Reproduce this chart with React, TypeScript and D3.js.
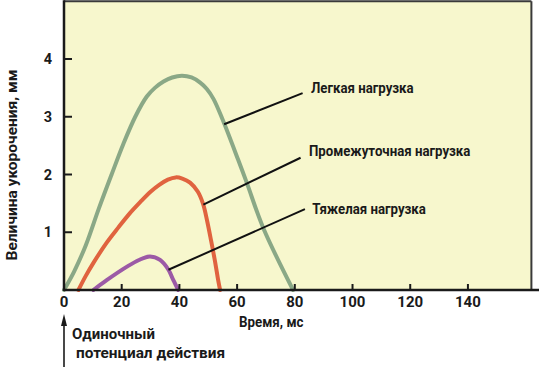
import React from "react";
import * as d3 from "d3";

const W = 541;
const H = 367;

const xTicks = [0, 20, 40, 60, 80, 100, 120, 140];
const yTicks = [1, 2, 3, 4];

// Light load (green)
const lightMs = [0, 3.5, 7.6, 12, 16.5, 20.5, 24.7, 28.7, 31.5, 34.5, 37.5, 40.9, 44.2, 47.2, 49.5, 51.8, 54.9, 60.4, 63.4, 69.1, 79.4];
const lightMm = [0, 0.32, 0.78, 1.4, 2.0, 2.52, 3.0, 3.35, 3.5, 3.61, 3.68, 3.71, 3.68, 3.59, 3.48, 3.31, 2.96, 2.25, 1.85, 1.07, 0];

// Intermediate load (red)
const midMs = [5.0, 7.5, 10.2, 14.8, 18.8, 22.5, 26.4, 30.0, 33.0, 36.0, 38.7, 41.0, 43.7, 46.4, 48.2, 49.6, 51.0, 52.4, 53.4, 54.1];
const midMm = [0, 0.24, 0.47, 0.82, 1.08, 1.31, 1.52, 1.7, 1.82, 1.91, 1.95, 1.93, 1.86, 1.70, 1.49, 1.2, 0.85, 0.48, 0.18, 0];

// Heavy load (purple)
const heavyMs = [10.2, 14.8, 21.7, 26.0, 29.8, 33.3, 36.2, 37.9, 39.6];
const heavyMm = [0, 0.17, 0.4, 0.52, 0.58, 0.52, 0.35, 0.17, 0];

const seriesNames = ["Легкая нагрузка", "Промежуточная нагрузка", "Тяжелая нагрузка"];
// leader lines from curve to label
const leaderFromMs = [55.5, 48.3, 36.2];
const leaderFromMm = [2.87, 1.48, 0.35];
const leaderToMs = [82.7, 82.0, 83.5];
const leaderToMm = [3.41, 2.29, 1.4];
const labelMs = [85.6, 84.9, 86.0];
const labelMm = [3.41, 2.32, 1.32];

const yTitle = "Величина укорочения, мм";
const xTitle = "Время, мс";
const noteLines = ["Одиночный", "потенциал действия"];

const FONT = "Roboto, 'Liberation Sans', Arial, sans-serif";
const INK = "#1a1a1a";

export default function App() {
  const x = d3.scaleLinear().domain([0, 162]).range([64, 531.4]);
  const y = d3.scaleLinear().domain([0, 5]).range([290, 1.25]);

  const line = d3
    .line<[number, number]>()
    .x((d) => x(d[0]))
    .y((d) => y(d[1]))
    .curve(d3.curveCatmullRom.alpha(0.5));

  const series = [
    { ms: lightMs, mm: lightMm, color: "#8aa886" },
    { ms: midMs, mm: midMm, color: "#e0633f" },
    { ms: heavyMs, mm: heavyMm, color: "#9c5aa6" },
  ];

  const x0 = x(0);
  const y0 = y(0);
  const xR = x(162);
  const yT = y(5);

  return (
    <svg
      width={W}
      height={H}
      style={{ position: "absolute", left: 0, top: 0, background: "#fff" }}
      fontFamily={FONT}
      fontWeight="bold"
    >
      <rect x={x0} y={yT} width={xR - x0} height={y0 - yT} fill="#f7f7cd" />
      <line x1={x0} y1={yT} x2={xR} y2={yT} stroke="#3a3a3a" strokeWidth={2} />
      <line x1={xR} y1={yT} x2={xR} y2={y0} stroke="#3a3a3a" strokeWidth={2} />

      {series.map((s, i) => (
        <path
          key={i}
          d={line(s.ms.map((m, j) => [m, s.mm[j]] as [number, number])) || ""}
          fill="none"
          stroke={s.color}
          strokeWidth={4}
          strokeLinecap="round"
        />
      ))}

      {seriesNames.map((n, i) => (
        <line
          key={n}
          x1={x(leaderFromMs[i])}
          y1={y(leaderFromMm[i])}
          x2={x(leaderToMs[i])}
          y2={y(leaderToMm[i])}
          stroke="#111"
          strokeWidth={2}
        />
      ))}
      {seriesNames.map((n, i) => (
        <text
          key={n}
          transform={`translate(${x(labelMs[i])},${y(labelMm[i])}) scale(0.945,1)`}
          fontSize={14}
          fill={INK}
        >
          {n}
        </text>
      ))}

      {yTicks.map((t) => (
        <g key={t}>
          <line x1={x0} x2={x0 + 8} y1={y(t)} y2={y(t)} stroke={INK} strokeWidth={2} />
          <text x={52} y={y(t) + 5} textAnchor="end" fontSize={14.5} fill={INK}>
            {t}
          </text>
        </g>
      ))}
      {xTicks.map((t) => (
        <g key={t}>
          {t > 0 && <line x1={x(t)} x2={x(t)} y1={y0} y2={y0 - 6} stroke={INK} strokeWidth={2} />}
          <text x={x(t)} y={307} textAnchor="middle" fontSize={15} fill={INK}>
            {t}
          </text>
        </g>
      ))}

      <line x1={x0} y1={yT - 1} x2={x0} y2={y0 + 1} stroke={INK} strokeWidth={2.5} />
      <line x1={x0} y1={y0} x2={539} y2={y0} stroke={INK} strokeWidth={2.5} />

      <text
        transform={`translate(17, 165) rotate(-90)`}
        textAnchor="middle"
        fontSize={15.5}
        fill={INK}
      >
        {yTitle}
      </text>
      <text transform="translate(239,327) scale(0.92,1)" fontSize={14.5} fill={INK}>
        {xTitle}
      </text>

      <line x1={x0} y1={367} x2={x0} y2={322} stroke={INK} strokeWidth={1.6} />
      <path d={`M${x0},${314} L${x0 - 3},${326} L${x0 + 3},${326} Z`} fill={INK} />
      <text x={72} y={339} fontSize={15} fill={INK}>
        {noteLines[0]}
      </text>
      <text x={76} y={358} fontSize={15.4} fill={INK}>
        {noteLines[1]}
      </text>
    </svg>
  );
}
